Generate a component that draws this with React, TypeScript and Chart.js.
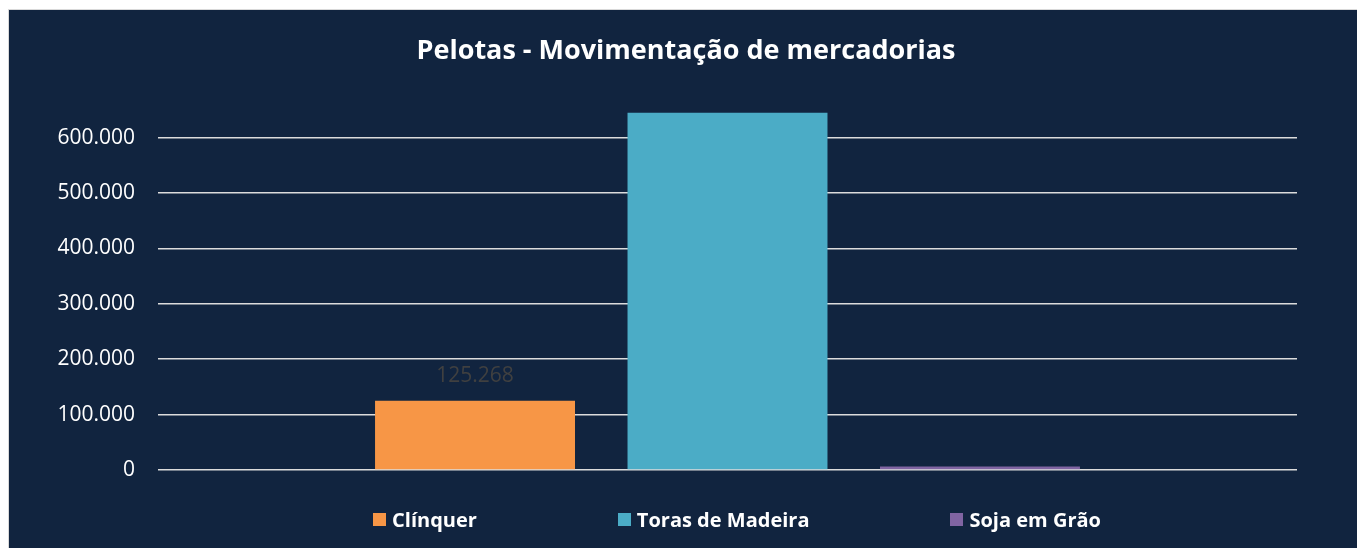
import React, { useEffect, useRef } from 'react';
import { Chart, registerables } from 'chart.js';

Chart.register(...registerables);

const chartTitle = 'Pelotas - Movimentação de mercadorias';
const categories = [''];
const seriesNames = ['Clínquer', 'Toras de Madeira', 'Soja em Grão'];
const clinquerValues = [125268];
const torasValues = [645000];
const sojaValues = [6500];
const seriesColors = ['#F79646', '#4BACC6', '#8064A2'];
const yMax = 700000;
const yStep = 100000;
const yLastLabel = 600000;
const labeledSeries = ['Clínquer'];

const FONT = '"Open Sans", "DejaVu Sans", sans-serif';
const BG = '#11243f';

const fmt = (n: number) =>
  Math.round(n)
    .toString()
    .replace(/\B(?=(\d{3})+(?!\d))/g, '.');

const valueLabelPlugin = {
  id: 'valueLabels',
  afterDatasetsDraw(chart: any) {
    const ctx = chart.ctx;
    ctx.save();
    ctx.font = `400 21px ${FONT}`;
    ctx.fillStyle = '#404040';
    ctx.textAlign = 'center';
    ctx.textBaseline = 'middle';
    chart.data.datasets.forEach((ds: any, i: number) => {
      if (!labeledSeries.includes(ds.label)) return;
      const meta = chart.getDatasetMeta(i);
      meta.data.forEach((bar: any, j: number) => {
        ctx.fillText(fmt(ds.data[j]), bar.x, bar.y - 25);
      });
    });
    ctx.restore();
  },
};

export default function App() {
  const canvasRef = useRef<HTMLCanvasElement | null>(null);

  useEffect(() => {
    const canvas = canvasRef.current;
    if (!canvas) return;
    const seriesValues = [clinquerValues, torasValues, sojaValues];
    const chart = new Chart(canvas, {
      type: 'bar',
      data: {
        labels: categories,
        datasets: seriesNames.map((name, i) => ({
          label: name,
          data: seriesValues[i],
          backgroundColor: seriesColors[i],
          borderWidth: 0,
          categoryPercentage: 0.665,
          barPercentage: 0.792,
        })),
      },
      options: {
        responsive: false,
        animation: false,
        layout: { padding: { left: 6, right: 0, top: 0, bottom: 78 } },
        plugins: {
          legend: { display: false },
          tooltip: { enabled: false },
          title: {
            display: true,
            text: chartTitle,
            color: '#ffffff',
            font: { family: FONT, size: 27, weight: 'bold' },
            padding: { top: 25, bottom: 15 },
          },
        },
        scales: {
          x: { display: false },
          y: {
            min: 0,
            max: yMax,
            afterFit: (axis: any) => {
              axis.width = 143;
            },
            border: { display: false },
            grid: {
              drawTicks: false,
              lineWidth: 1.6,
              color: (c: any) =>
                c.tick && c.tick.value > yLastLabel ? 'rgba(0,0,0,0)' : '#dcdcdc',
            },
            ticks: {
              stepSize: yStep,
              padding: 23,
              color: '#ffffff',
              font: { family: FONT, size: 21 },
              callback: (v: any) => (Number(v) > yLastLabel ? '' : fmt(Number(v))),
            },
          },
          yRight: {
            type: 'linear',
            axis: 'y',
            position: 'right',
            min: 0,
            max: yMax,
            afterFit: (axis: any) => {
              axis.width = 60;
            },
            border: { display: false },
            grid: { display: false, drawTicks: false },
            ticks: { display: false },
          },
        },
      },
      plugins: [valueLabelPlugin],
    } as any);
    return () => chart.destroy();
  }, []);

  return (
    <div
      style={{
        position: 'fixed',
        left: 8,
        top: 9,
        width: 1360,
        height: 545,
        border: '1px solid #d9d9d9',
        boxSizing: 'border-box',
        background: BG,
        overflow: 'hidden',
      }}
    >
      <canvas
        ref={canvasRef}
        width={1348}
        height={538}
        style={{ position: 'absolute', left: 0, top: 0, width: 1348, height: 538 }}
      />
      <div
        style={{
          position: 'absolute',
          left: 0,
          top: 495,
          width: 1358,
          height: 28,
          paddingLeft: 98,
          boxSizing: 'border-box',
          display: 'flex',
          justifyContent: 'center',
          alignItems: 'center',
          gap: 141,
          fontFamily: FONT,
          fontWeight: 700,
          fontSize: 20,
          color: '#ffffff',
        }}
      >
        {seriesNames.map((name, i) => (
          <div key={name} style={{ display: 'flex', alignItems: 'center', gap: 6 }}>
            <span
              style={{ display: 'inline-block', width: 13, height: 13, background: seriesColors[i] }}
            />
            <span>{name}</span>
          </div>
        ))}
      </div>
    </div>
  );
}
